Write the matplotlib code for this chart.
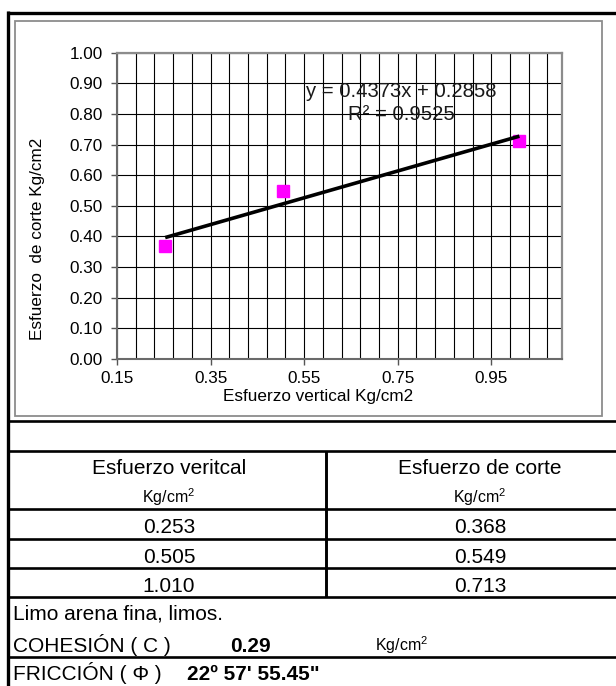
import matplotlib

matplotlib.use("Agg")
import matplotlib.pyplot as plt
from matplotlib.lines import Line2D
from matplotlib.patches import Rectangle
from matplotlib.ticker import FixedLocator
import numpy as np

# Ensayo de corte directo
esfuerzo_vertical = [0.253, 0.505, 1.010]   # Kg/cm2
esfuerzo_corte = [0.368, 0.549, 0.713]      # Kg/cm2
pendiente = 0.4373
intercepto = 0.2858
r_cuadrado = 0.9525
x_ticks = [0.15, 0.35, 0.55, 0.75, 0.95]
y_ticks = [0.0, 0.1, 0.2, 0.3, 0.4, 0.5, 0.6, 0.7, 0.8, 0.9, 1.0]
descripcion = "Limo arena fina, limos."
cohesion = 0.29
friccion = "22º 57' 55.45\""
unidad = r"Kg/cm$^{2}$"

W, H = 616, 686
plt.rcParams["font.family"] = ["Liberation Sans", "DejaVu Sans"]
plt.rcParams["mathtext.fontset"] = "custom"
plt.rcParams["mathtext.rm"] = "Liberation Sans"
plt.rcParams["mathtext.it"] = "Liberation Sans"
plt.rcParams["mathtext.default"] = "rm"

fig = plt.figure(figsize=(W / 100, H / 100), dpi=100)
fig.patch.set_facecolor("white")


def fx(px):
    return px / W


def fy(py):
    return 1 - py / H


def hline(y, x0, x1, lw=1.9, color="black"):
    fig.add_artist(Line2D([fx(x0), fx(x1)], [fy(y), fy(y)], lw=lw, color=color,
                          transform=fig.transFigure, solid_capstyle="butt"))


def vline(x, y0, y1, lw=1.9, color="black"):
    fig.add_artist(Line2D([fx(x), fx(x)], [fy(y0), fy(y1)], lw=lw, color=color,
                          transform=fig.transFigure, solid_capstyle="butt"))


# --- grafico ---
ax = fig.add_axes([fx(117), fy(359), (561.5 - 117) / W, (359 - 52.7) / H])
ax.set_xlim(0.15, 1.10)
ax.set_ylim(0.0, 1.0)
ax.set_xticks(x_ticks)
ax.set_xticklabels([f"{t:.2f}" for t in x_ticks])
ax.set_yticks(y_ticks)
ax.set_yticklabels([f"{t:.2f}" for t in y_ticks])
ax.xaxis.set_minor_locator(FixedLocator(np.arange(0.15, 1.10, 0.04)))

ax.grid(which="both", axis="x", color="black", lw=0.8, zorder=1)
ax.grid(which="major", axis="y", color="black", lw=0.8, zorder=1)
ax.set_axisbelow(True)

for side in ("left", "bottom"):
    ax.spines[side].set_color("#6a6a6a")
    ax.spines[side].set_linewidth(1.5)
for side in ("top", "right"):
    ax.spines[side].set_color("#8c8c8c")
    ax.spines[side].set_linewidth(1.6)

ax.tick_params(which="major", direction="out", length=4.3, width=1.0,
               color="#555555", labelsize=12.3, labelcolor="black")
ax.tick_params(axis="y", which="major", pad=6)
ax.tick_params(axis="x", which="major", pad=4.5)
ax.tick_params(which="minor", length=0)

ax.plot(esfuerzo_vertical, esfuerzo_corte, "s", color="#FF00FF", mec="#FF00FF",
        ms=8.2, zorder=3, clip_on=False)

xs = np.array([min(esfuerzo_vertical), max(esfuerzo_vertical)])
ax.plot(xs, pendiente * xs + intercepto, color="black", lw=2.6, zorder=4,
        solid_capstyle="butt")

ax.text(0.7575, 0.872, f"y = {pendiente:.4f}x + {intercepto:.4f}", ha="center",
        va="center", fontsize=14.6, color="#1a1a1a", zorder=5)
ax.text(0.7575, 0.797, f"R² = {r_cuadrado:.4f}", ha="center", va="center",
        fontsize=14.6, color="#1a1a1a", zorder=5)

fig.text(fx(318), fy(397), "Esfuerzo vertical Kg/cm2", ha="center", va="center",
         fontsize=12.3)
fig.text(fx(38), fy(239), "Esfuerzo  de corte Kg/cm2", ha="center", va="center",
         rotation=90, fontsize=12.3)

# --- marcos ---
fig.add_artist(Rectangle((fx(15), fy(416)), fx(601.7) - fx(15), fy(21) - fy(416),
                         fill=False, ec="#8c8c8c", lw=1.3, transform=fig.transFigure))
hline(12.5, 6.6, W, lw=2.4)
vline(8.3, 11.3, H, lw=2.4)

# --- tabla ---
for y in (420.5, 451, 509, 539, 568, 597, 657):
    hline(y, 8.3, W)
vline(325.7, 451, 597, lw=2.1)

col_izq, col_der = 169, 480
fig.text(fx(col_izq), fy(474), "Esfuerzo veritcal", ha="center", va="baseline", fontsize=15)
fig.text(fx(col_der), fy(474), "Esfuerzo de corte", ha="center", va="baseline", fontsize=15)
fig.text(fx(col_izq), fy(503.3), unidad, ha="center", va="baseline", fontsize=11.5)
fig.text(fx(col_der), fy(503.3), unidad, ha="center", va="baseline", fontsize=11.5)

for base, sv, sc in zip((533.3, 562.7, 591.7), esfuerzo_vertical, esfuerzo_corte):
    fig.text(fx(col_izq), fy(base), f"{sv:.3f}", ha="center", va="baseline", fontsize=15)
    fig.text(fx(col_der), fy(base), f"{sc:.3f}", ha="center", va="baseline", fontsize=15)

fig.text(fx(13), fy(620), descripcion, ha="left", va="baseline", fontsize=15)
fig.text(fx(13), fy(651.7), "COHESIÓN ( C )", ha="left", va="baseline", fontsize=15)
fig.text(fx(230), fy(651.7), f"{cohesion:.2f}", ha="left", va="baseline", fontsize=15,
         fontweight="bold")
fig.text(fx(375), fy(650.7), unidad, ha="left", va="baseline", fontsize=11.5)
fig.text(fx(13), fy(680), "FRICCIÓN ( Φ )", ha="left", va="baseline", fontsize=15)
fig.text(fx(187), fy(680), friccion, ha="left", va="baseline", fontsize=15,
         fontweight="bold")

fig.savefig("out.png", dpi=100)
